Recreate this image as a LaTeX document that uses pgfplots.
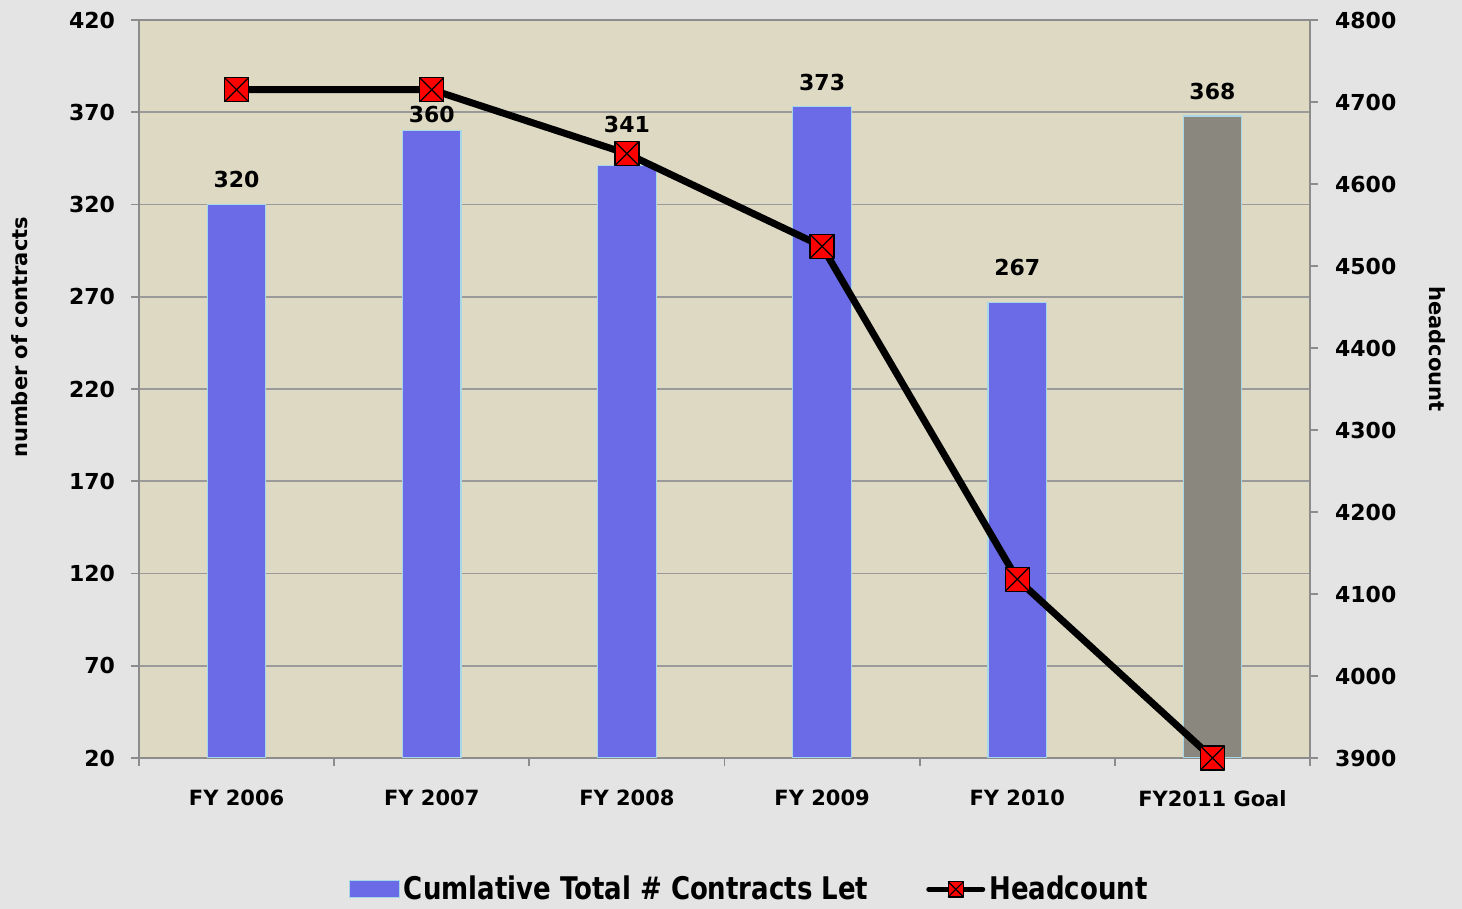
\documentclass[border=0pt]{standalone}
\usepackage{pgfplots}
\usepackage{pgfplotstable}
\pgfplotsset{compat=1.18}
\usepackage{fontspec}
\setmainfont{DejaVu Sans}
\definecolor{bgc}{HTML}{E4E4E4}
\definecolor{plotbg}{HTML}{DDD9C3}
\definecolor{barblue}{HTML}{6B6BE8}
\definecolor{bargray}{HTML}{8A877E}
\definecolor{baredge}{HTML}{A8D8E8}
\definecolor{axgray}{HTML}{8C8C8C}
\definecolor{gridgray}{HTML}{9A9A9A}

\pgfdeclareplotmark{sqx}{%
  \pgfpathrectangle{\pgfqpoint{-\pgfplotmarksize}{-\pgfplotmarksize}}{\pgfqpoint{2\pgfplotmarksize}{2\pgfplotmarksize}}%
  \pgfusepathqfillstroke
  \pgfpathmoveto{\pgfqpoint{-\pgfplotmarksize}{-\pgfplotmarksize}}%
  \pgfpathlineto{\pgfqpoint{\pgfplotmarksize}{\pgfplotmarksize}}%
  \pgfpathmoveto{\pgfqpoint{-\pgfplotmarksize}{\pgfplotmarksize}}%
  \pgfpathlineto{\pgfqpoint{\pgfplotmarksize}{-\pgfplotmarksize}}%
  \pgfusepathqstroke}

\pgfplotstableread{
x y off
0 320 4.75
1 360 0.5
2 341 13
3 373 4.5
4 267 9.5
}\barsdata

\pgfplotstableread{
x y off
5 368 4.5
}\goaldata

\pgfplotstableread{
x y
0 4715
1 4715
2 4637
3 4524
4 4118
5 3900
}\headdata

\pgfplotsset{/pgf/number format/assume math mode=true, /pgf/number format/1000 sep={}}

\begin{document}
\begin{tikzpicture}[font=\fontsize{10.5}{12.5}\selectfont\bfseries]
\useasboundingbox[fill=bgc] (0,0) rectangle (731pt,454.5pt);
\begin{axis}[
  at={(69.5pt,75.5pt)}, anchor=south west,
  scale only axis, width=585.5pt, height=369pt,
  axis background/.style={fill=plotbg},
  xmin=-0.5, xmax=5.5, ymin=20, ymax=420,
  ytick={20,70,...,420},
  xtick={0,...,5},
  xticklabels={FY 2006, FY 2007, FY 2008, FY 2009, FY 2010, FY2011 Goal},
  minor xtick={-0.5,0.5,...,5.5},
  major x tick style={draw=none},
  minor x tick style={draw=axgray, line width=0.9pt},
  major y tick style={draw=axgray, line width=0.9pt},
  tick align=outside,
  major tick length=4pt, minor tick length=4pt,
  xtick pos=left, ytick pos=left,
  axis line style={draw=axgray, line width=1pt},
  ymajorgrids,
  grid style={draw=gridgray, line width=0.9pt},
  yticklabel style={xshift=-4.5pt, font=\fontsize{11}{13}\selectfont\bfseries},
  xticklabel style={yshift=-8.5pt},
  ylabel={number of contracts},
  ylabel style={at={(axis description cs:-0.1016,0.57)}, anchor=center},
  ybar, bar width=0.3, bar shift=0pt,
  nodes near coords,
  visualization depends on={\thisrow{off}\as\myoff},
  every node near coord/.append style={font=\fontsize{11}{13}\selectfont\bfseries, yshift=\myoff pt, black},
]
\addplot[fill=barblue, draw=baredge, line width=0.6pt] table[x=x,y=y] {\barsdata};
\addplot[fill=bargray, draw=baredge, line width=0.6pt] table[x=x,y=y] {\goaldata};
\end{axis}

\begin{axis}[
  at={(69.5pt,75.5pt)}, anchor=south west,
  scale only axis, width=585.5pt, height=369pt,
  xmin=-0.5, xmax=5.5, ymin=3900, ymax=4800,
  ytick={3900,4000,...,4800},
  axis x line=none,
  axis y line*=right,
  tick align=outside,
  major tick length=4pt,
  major y tick style={draw=axgray, line width=0.9pt},
  axis line style={draw=axgray, line width=1pt},
  yticklabel style={xshift=5pt, font=\fontsize{11}{13}\selectfont\bfseries},
  ylabel={headcount},
  ylabel style={at={(axis description cs:1.1085,0.554)}, anchor=center, rotate=180},
  clip=false,
  legend columns=2,
  legend style={
    at={(axis description cs:0.522,-0.178)}, anchor=center,
    draw=none, fill=none,
    font=\fontsize{13}{15}\selectfont\bfseries,
    /tikz/every even column/.append style={column sep=27pt},
  },
]
\addlegendimage{legend image code/.code={\fill[barblue, draw=baredge, line width=0.5pt] (0pt,-4pt) rectangle (25pt,4.5pt);}}
\addlegendentry{\scalebox{1}[1.2]{Cumlative Total \# Contracts Let}}
\addplot[black, line width=3.5pt, line join=round, mark=sqx, mark size=6pt,
  mark options={fill=red, draw=black, line width=0.6pt},
  legend image code/.code={%
    \draw[black, line width=2.5pt, line cap=round] (0pt,0pt) -- (27pt,0pt);
    \draw[black, fill=red, line width=0.5pt] plot[mark=sqx, mark size=3.8pt] coordinates {(13.5pt,0pt)};}
] table[x=x,y=y] {\headdata};
\addlegendentry{\scalebox{1}[1.2]{Headcount}}
\end{axis}
\end{tikzpicture}
\end{document}
